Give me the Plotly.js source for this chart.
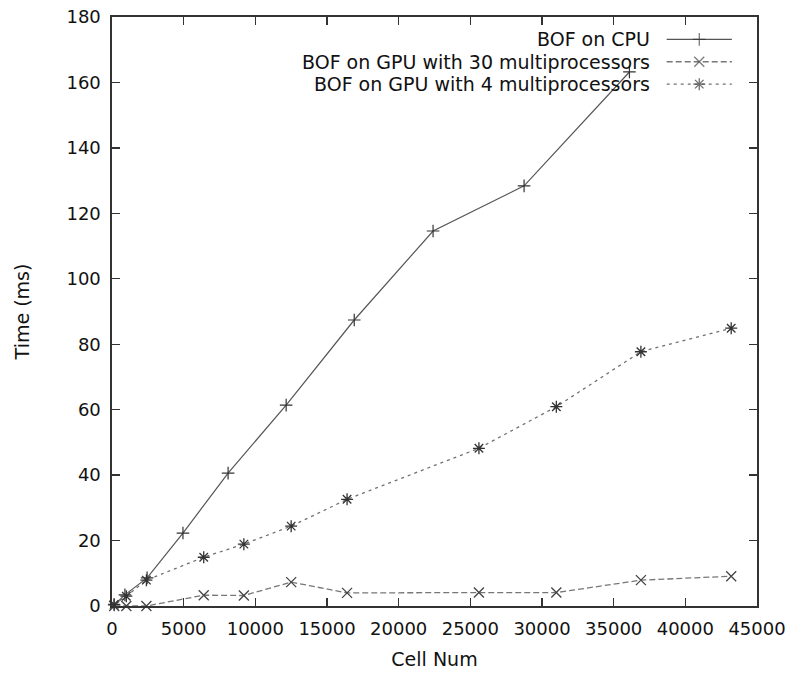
<!DOCTYPE html>
<html>
<head>
<meta charset="utf-8">
<script src="https://cdn.plot.ly/plotly-3.0.1.min.js"></script>
<style>html,body{margin:0;padding:0;background:#fff;}#chart{width:795px;height:677px;}</style>
</head>
<body>
<div id="chart"></div>
<script>
// Data
const seriesNames = ["BOF on CPU", "BOF on GPU with 30 multiprocessors", "BOF on GPU with 4 multiprocessors"];

const cpuCells = [150, 900, 2450, 4950, 8100, 12150, 16900, 22400, 28750, 36100];
const cpuTime  = [0.3, 3.4, 8.6, 22.3, 40.6, 61.4, 87.4, 114.6, 128.4, 163.2];

const gpu30Cells = [150, 1000, 2400, 6400, 9200, 12500, 16400, 25600, 31000, 36900, 43200];
const gpu30Time  = [0.0, 0.0, 0.0, 3.3, 3.2, 7.3, 4.0, 4.1, 4.1, 7.9, 9.1];

const gpu4Cells = [150, 1000, 2400, 6400, 9200, 12500, 16400, 25600, 31000, 36900, 43200];
const gpu4Time  = [0.5, 3.0, 7.9, 14.9, 18.9, 24.4, 32.6, 48.2, 60.9, 77.7, 84.9];

const xTicks = [0, 5000, 10000, 15000, 20000, 25000, 30000, 35000, 40000, 45000];
const yTicks = [0, 20, 40, 60, 80, 100, 120, 140, 160, 180];

const FONT = "DejaVu Sans, Liberation Sans, Arial, sans-serif";

const styles = [
  {line: {color: "#555", width: 1.2, dash: "solid"}, marker: {symbol: "cross-thin-open", size: 9, color: "#333", line: {width: 1.2, color: "#333"}}},
  {line: {color: "#777", width: 1.3, dash: "6px,3px"}, marker: {symbol: "x-thin-open", size: 10, color: "#444", line: {width: 1.3, color: "#444"}}},
  {line: {color: "#707070", width: 1.3, dash: "3px,4px"}, marker: {symbol: "asterisk-open", size: 10, color: "#333", line: {width: 1.3, color: "#333"}}}
];

const xs = [cpuCells, gpu30Cells, gpu4Cells];
const ys = [cpuTime, gpu30Time, gpu4Time];

const traces = [];
for (let i = 0; i < 3; i++) {
  traces.push({
    type: "scatter", mode: "lines+markers", name: seriesNames[i],
    x: xs[i], y: ys[i], line: styles[i].line, marker: styles[i].marker,
    showlegend: false, cliponaxis: false
  });
}

// custom gnuplot-style key (text left, sample right), drawn on a helper 0..1 axis
const keyRowsY = [0.962, 0.924, 0.886];
const keyX0 = 0.860, keyX1 = 0.961;
const annotations = [];
for (let i = 0; i < 3; i++) {
  traces.push({
    type: "scatter", mode: "lines+markers", xaxis: "x2", yaxis: "y2",
    x: [keyX0, (keyX0 + keyX1) / 2, keyX1], y: [keyRowsY[i], keyRowsY[i], keyRowsY[i]],
    line: styles[i].line,
    marker: Object.assign({}, styles[i].marker, {size: [0, styles[i].marker.size, 0]}),
    showlegend: false, hoverinfo: "skip", cliponaxis: false
  });
  annotations.push({
    xref: "paper", yref: "paper", x: 0.837, y: keyRowsY[i],
    xanchor: "right", yanchor: "middle", showarrow: false,
    text: seriesNames[i], font: {family: FONT, size: 19, color: "#111"}
  });
}

const axisCommon = {
  showgrid: false, zeroline: false, showline: true, linecolor: "#333", linewidth: 1.6,
  mirror: "ticks", ticks: "inside", ticklen: 8, tickwidth: 1.4, tickcolor: "#333",
  tickfont: {family: FONT, size: 18, color: "#111"}
};

const layout = {
  width: 795, height: 677,
  margin: {l: 112, r: 38, t: 17, b: 71},
  paper_bgcolor: "#fff", plot_bgcolor: "#fff",
  showlegend: false,
  xaxis: Object.assign({}, axisCommon, {
    range: [0, 45000], tickmode: "array", tickvals: xTicks, ticktext: xTicks.map(String),
    ticklabelstandoff: 6,
    title: {text: "Cell Num", font: {family: FONT, size: 19, color: "#111"}, standoff: 14}
  }),
  yaxis: Object.assign({}, axisCommon, {
    range: [0, 180], tickmode: "array", tickvals: yTicks, ticktext: yTicks.map(String),
    ticklabelstandoff: 6,
    title: {text: "Time (ms)", font: {family: FONT, size: 19, color: "#111"}, standoff: 32}
  }),
  xaxis2: {domain: [0, 1], range: [0, 1], overlaying: "x", anchor: "y2", visible: false, fixedrange: true},
  yaxis2: {domain: [0, 1], range: [0, 1], overlaying: "y", anchor: "x2", visible: false, fixedrange: true},
  annotations: annotations
};

Plotly.newPlot("chart", traces, layout, {displayModeBar: false, staticPlot: true});
</script>
</body>
</html>
